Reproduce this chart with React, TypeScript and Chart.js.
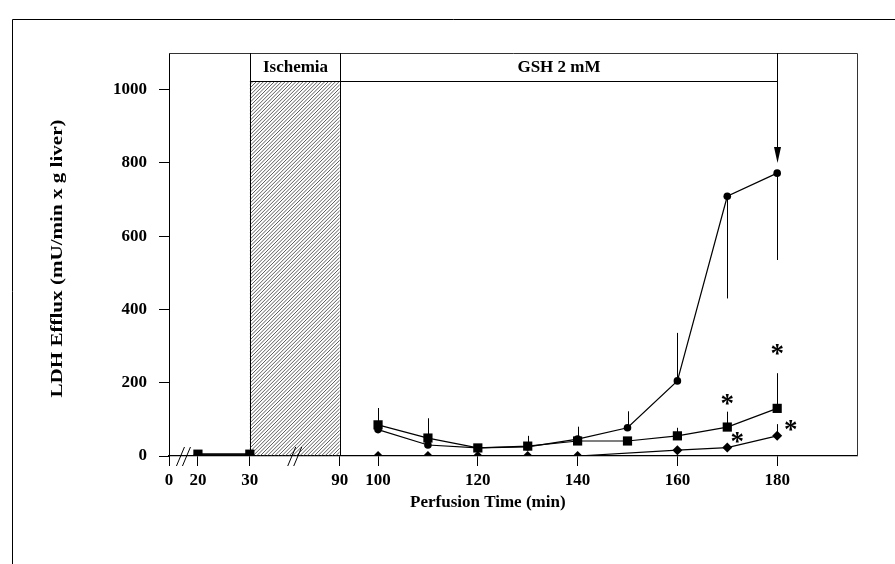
import React, { useEffect, useRef } from 'react';
import { Chart, registerables } from 'chart.js';

Chart.register(...registerables);

// ---- data ----
const TIMES = [20, 30, 100, 110, 120, 130, 140, 150, 160, 170, 180];
const CIRCLE_VALUES = [5, 5, 72, 30, 22, 25, 46, 77, 205, 709, 772];
const CIRCLE_ERR = [0, 0, 0, 0, 0, 0, 34, 45, 131, -279, -237];
const SQUARE_VALUES = [5, 5, 85, 49, 22, 27, 41, 41, 55, 79, 130];
const SQUARE_ERR = [0, 0, 46, 54, 0, 28, 0, 0, 22, 42, 96];
const DIAMOND_VALUES: (number | null)[] = [2, 2, 0, 0, 0, 0, 0, null, 16, 23, 55];
const DIAMOND_ERR = [0, 0, 0, 0, 0, 0, 0, 0, 0, 0, 32];

const X_TICK_LABELS = [0, 20, 30, 90, 100, 120, 140, 160, 180];
const Y_TICKS = [0, 200, 400, 600, 800, 1000];

const STAR_TIMES = [170, 180, 172, 182.7];
const STAR_VALUES = [153, 290, 50, 82];

const ISCHEMIA = [30, 90];
const GSH = [90, 180];
const ARROW_VALUE = 800;
const AXIS_BREAKS = [10, 60];

// broken time axis: piecewise-linear mapping of minutes onto the drawing axis
const TIME_ANCHORS = [0, 20, 30, 90, 100, 180];
const AXIS_ANCHORS = [58.1, 63.9, 74.3, 92.3, 100, 180];
const AXIS_MIN = 58.1;
const AXIS_MAX = 196.0;

function mapT(t: number): number {
  for (let i = 0; i < TIME_ANCHORS.length - 1; i++) {
    const a = TIME_ANCHORS[i], b = TIME_ANCHORS[i + 1];
    if (t <= b || i === TIME_ANCHORS.length - 2) {
      const f = (t - a) / (b - a);
      return AXIS_ANCHORS[i] + f * (AXIS_ANCHORS[i + 1] - AXIS_ANCHORS[i]);
    }
  }
  return t;
}

const toPoints = (vals: (number | null)[]) =>
  TIMES.map((t, i) => ({ x: mapT(t), y: vals[i] })).filter((p) => p.y !== null) as { x: number; y: number }[];

const FONT = 'Liberation Serif';

const overlay = {
  id: 'overlay',
  beforeDatasetsDraw(chart: any) {
    const { ctx, chartArea: ca, scales } = chart;
    const x = scales.x, y = scales.y;
    const boxBottom = ca.top + 28;
    // hatched ischemia region
    const x30 = x.getPixelForValue(mapT(ISCHEMIA[0]));
    const x90 = x.getPixelForValue(mapT(ISCHEMIA[1]));
    ctx.save();
    ctx.beginPath();
    ctx.rect(x30, boxBottom, x90 - x30, ca.bottom - boxBottom);
    ctx.clip();
    ctx.strokeStyle = '#333';
    ctx.lineWidth = 0.8;
    const h = ca.bottom - boxBottom;
    for (let s = x30 - h; s < x90 + 4; s += 3.6) {
      ctx.beginPath();
      ctx.moveTo(s, ca.bottom);
      ctx.lineTo(s + h, boxBottom);
      ctx.stroke();
    }
    ctx.restore();

    // error bars
    ctx.save();
    ctx.strokeStyle = '#000';
    ctx.lineWidth = 1;
    const bars = (vals: (number | null)[], errs: number[]) => {
      TIMES.forEach((t, i) => {
        const v = vals[i];
        if (v === null || !errs[i]) return;
        const px = Math.round(x.getPixelForValue(mapT(t))) + 0.5;
        ctx.beginPath();
        ctx.moveTo(px, y.getPixelForValue(v));
        ctx.lineTo(px, y.getPixelForValue(v + errs[i]));
        ctx.stroke();
      });
    };
    bars(CIRCLE_VALUES, CIRCLE_ERR);
    bars(SQUARE_VALUES, SQUARE_ERR);
    bars(DIAMOND_VALUES, DIAMOND_ERR);
    ctx.restore();
  },
  afterDraw(chart: any) {
    const { ctx, chartArea: ca, scales } = chart;
    const x = scales.x, y = scales.y;
    const boxBottom = ca.top + 28;
    ctx.save();
    ctx.strokeStyle = '#000';
    ctx.fillStyle = '#000';
    ctx.lineWidth = 1;

    // outer figure frame
    ctx.beginPath();
    ctx.moveTo(12.5, 564);
    ctx.lineTo(12.5, 19.5);
    ctx.lineTo(895, 19.5);
    ctx.stroke();

    // plot frame (top & right)
    ctx.strokeStyle = '#333';
    ctx.beginPath();
    ctx.moveTo(ca.left, Math.round(ca.top) + 0.5);
    ctx.lineTo(Math.round(ca.right) + 0.5, Math.round(ca.top) + 0.5);
    ctx.lineTo(Math.round(ca.right) + 0.5, ca.bottom);
    ctx.stroke();
    ctx.strokeStyle = '#000';

    const x30 = Math.round(x.getPixelForValue(mapT(ISCHEMIA[0]))) + 0.5;
    const x90 = Math.round(x.getPixelForValue(mapT(ISCHEMIA[1]))) + 0.5;
    const x180 = Math.round(x.getPixelForValue(mapT(GSH[1]))) + 0.5;
    const bb = Math.round(boxBottom) + 0.5;

    // ischemia box + hatched area edges
    ctx.beginPath();
    ctx.moveTo(x30, ca.top); ctx.lineTo(x30, ca.bottom);
    ctx.moveTo(x90, ca.top); ctx.lineTo(x90, ca.bottom);
    ctx.moveTo(x30, bb); ctx.lineTo(x180, bb);
    ctx.stroke();

    // GSH box right edge + arrow
    const tipY = y.getPixelForValue(ARROW_VALUE);
    ctx.beginPath();
    ctx.moveTo(x180, ca.top); ctx.lineTo(x180, tipY - 10);
    ctx.stroke();
    ctx.beginPath();
    ctx.moveTo(x180, tipY);
    ctx.lineTo(x180 - 3.5, tipY - 16);
    ctx.lineTo(x180 + 3.5, tipY - 16);
    ctx.closePath();
    ctx.fill();

    // box labels
    ctx.font = `bold 17px ${FONT}`;
    ctx.textAlign = 'center';
    ctx.textBaseline = 'middle';
    ctx.fillText('Ischemia', (x30 + x90) / 2, (ca.top + boxBottom) / 2 + 1);
    ctx.fillText('GSH 2 mM', (x90 + x180) / 2, (ca.top + boxBottom) / 2 + 1);

    // axis breaks
    ctx.lineWidth = 1;
    AXIS_BREAKS.forEach((t) => {
      const cx = x.getPixelForValue(mapT(t));
      [-3, 3].forEach((dx) => {
        ctx.beginPath();
        ctx.moveTo(cx + dx - 4, ca.bottom + 10);
        ctx.lineTo(cx + dx + 4, ca.bottom - 9);
        ctx.stroke();
      });
    });

    // significance stars
    ctx.font = `bold 27px ${FONT}`;
    ctx.textBaseline = 'alphabetic';
    STAR_TIMES.forEach((t, i) => {
      const px = x.getPixelForValue(mapT(t));
      const py = y.getPixelForValue(STAR_VALUES[i]);
      const m = ctx.measureText('*');
      const asc = m.actualBoundingBoxAscent, desc = m.actualBoundingBoxDescent;
      ctx.fillText('*', px, py + (asc - desc) / 2);
    });

    // axis titles
    ctx.font = `bold 17px ${FONT}`;
    ctx.textBaseline = 'middle';
    ctx.textAlign = 'center';
    ctx.fillText('Perfusion Time (min)', x.getPixelForValue(mapT(122)), 503);
    ctx.save();
    ctx.translate(58, (ca.top + ca.bottom) / 2 + 4);
    ctx.rotate(-Math.PI / 2);
    ctx.scale(1.24, 1);
    ctx.fillText('LDH Efflux (mU/min x g liver)', 0, 0);
    ctx.restore();

    ctx.restore();
  },
};

export default function App() {
  const ref = useRef<HTMLCanvasElement | null>(null);
  useEffect(() => {
    if (!ref.current) return;
    Chart.defaults.font.family = FONT;
    Chart.defaults.color = '#000';
    const common = {
      borderColor: '#000',
      backgroundColor: '#000',
      pointBackgroundColor: '#000',
      pointBorderColor: '#000',
      borderWidth: 1.2,
      pointBorderWidth: 0,
      spanGaps: 21,
      tension: 0,
    };
    const chart = new Chart(ref.current, {
      type: 'line',
      data: {
        datasets: [
          { ...common, label: 'Diamonds', data: toPoints(DIAMOND_VALUES), pointStyle: 'rectRot', pointRadius: 5, borderWidth: 1.2 },
          { ...common, label: 'Squares', data: toPoints(SQUARE_VALUES), pointStyle: 'rect', pointRadius: 6.5 },
          { ...common, label: 'Circles', data: toPoints(CIRCLE_VALUES), pointStyle: 'circle', pointRadius: 3.8 },
        ],
      },
      options: {
        responsive: false,
        animation: false,
        events: [],
        layout: { padding: { left: 0, top: 53, right: 38, bottom: 0 } },
        plugins: { legend: { display: false }, tooltip: { enabled: false } },
        scales: {
          x: {
            type: 'linear',
            min: AXIS_MIN,
            max: AXIS_MAX,
            afterBuildTicks: (s: any) => {
              s.ticks = X_TICK_LABELS.map((t) => ({ value: mapT(t) }));
            },
            afterFit: (s: any) => { s.height = 108; },
            ticks: {
              autoSkip: false,
              maxRotation: 0,
              padding: 4,
              font: { family: FONT, size: 17, weight: 'bold' },
              color: '#000',
              callback: (_v: any, i: number) => String(X_TICK_LABELS[i]),
            },
            grid: { drawOnChartArea: false, drawTicks: true, tickLength: 10, color: '#000' },
            border: { display: true, color: '#000', width: 1.3 },
          },
          y: {
            type: 'linear',
            min: 0,
            max: 1100,
            afterBuildTicks: (s: any) => {
              s.ticks = Y_TICKS.map((v) => ({ value: v }));
            },
            afterFit: (s: any) => { s.width = 169; },
            ticks: {
              padding: 12,
              font: { family: FONT, size: 17, weight: 'bold' },
              color: '#000',
              callback: (v: any) => String(v),
            },
            grid: { drawOnChartArea: false, drawTicks: true, tickLength: 10, color: '#000' },
            border: { display: true, color: '#000', width: 1 },
          },
        },
      } as any,
      plugins: [overlay],
    });
    return () => chart.destroy();
  }, []);
  return (
    <div style={{ position: 'fixed', left: 0, top: 0, width: 895, height: 564, background: '#fff' }}>
      <canvas ref={ref} width={895} height={564} style={{ display: 'block' }} />
    </div>
  );
}
